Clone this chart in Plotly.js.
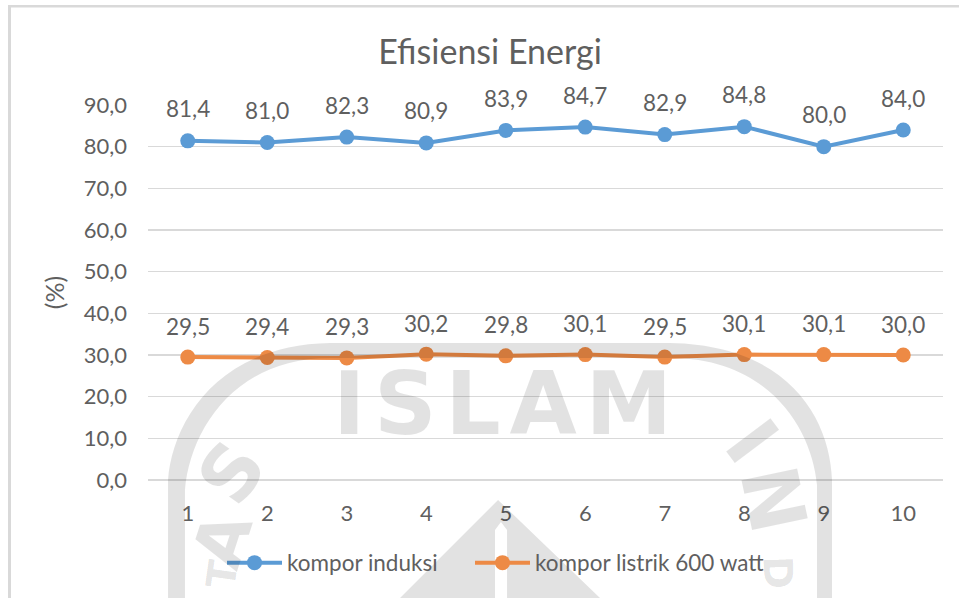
<!DOCTYPE html>
<html>
<head>
<meta charset="utf-8">
<script src="https://cdn.plot.ly/plotly-3.0.1.min.js"></script>
<style>html,body{margin:0;padding:0;background:#fff}#c{width:959px;height:598px}</style>
</head>
<body>
<div id="c"></div>
<script>
var categories = [1, 2, 3, 4, 5, 6, 7, 8, 9, 10];
var induksi = [81.4, 81.0, 82.3, 80.9, 83.9, 84.7, 82.9, 84.8, 80.0, 84.0];
var listrik = [29.5, 29.4, 29.3, 30.2, 29.8, 30.1, 29.5, 30.1, 30.1, 30.0];
var seriesNames = ['kompor induksi', 'kompor listrik 600 watt'];
var chartTitle = 'Efisiensi Energi';
var yTitle = '(%)';

var W = 959, H = 598, L = 148, R = 943, T = 105, B = 480;
var FONT = 'Lato, Carlito, sans-serif', INK = '#5f5f5f', GRID = '#d9d9d9';
var WM = 'rgba(0,0,0,0.115)';

function px(x) { return ((x - L) / (R - L)).toFixed(4); }
function py(y) { return ((B - y) / (B - T)).toFixed(4); }
function toPath(s) {
  return s.replace(/(-?\d+(?:\.\d+)?) (-?\d+(?:\.\d+)?)/g, function (m, a, b) {
    return px(+a) + ',' + py(+b);
  });
}
function wmShape(s) {
  return { type: 'path', xref: 'paper', yref: 'paper', layer: 'above', path: toPath(s), fillcolor: WM, line: { width: 0 } };
}
function frameRect(x0, y0, x1, y1) {
  return { type: 'rect', xref: 'paper', yref: 'paper', layer: 'below', x0: +px(x0), x1: +px(x1), y0: +py(y0), y1: +py(y1), fillcolor: GRID, line: { width: 0 } };
}
function dataLabels(vals, shift) {
  return vals.map(function (v, i) {
    return { x: categories[i], y: v, xref: 'x', yref: 'y', text: v.toFixed(1).replace('.', ','), showarrow: false, yshift: shift, yanchor: 'middle', font: { family: FONT, size: 22.5, color: INK } };
  });
}
function wmText(t, x, y, size, angle) {
  return { xref: 'paper', yref: 'paper', x: +px(x), y: +py(y), text: t, showarrow: false, textangle: angle, xanchor: 'center', yanchor: 'middle', font: { family: 'DejaVu Sans', weight: 700, size: size, color: WM } };
}
function legendAt(xPixel) {
  return {
    orientation: 'h', x: (xPixel - L) / (R - L), xanchor: 'left', y: (B - 563) / (B - T), yanchor: 'middle',
    font: { family: FONT, size: 22.5, color: INK }, itemwidth: 55, bgcolor: 'rgba(0,0,0,0)'
  };
}

var traces = [
  { x: categories, y: induksi, name: seriesNames[0], mode: 'lines+markers', line: { color: '#5b9bd5', width: 4 }, marker: { color: '#5b9bd5', size: 15 }, legend: 'legend' },
  { x: categories, y: listrik, name: seriesNames[1], mode: 'lines+markers', line: { color: '#ed8a45', width: 4 }, marker: { color: '#ed8a45', size: 15 }, legend: 'legend2' }
];

var layout = {
  width: W, height: H,
  margin: { l: L, r: W - R, t: T, b: H - B, pad: 0 },
  paper_bgcolor: '#fff', plot_bgcolor: 'rgba(0,0,0,0)',
  separators: ',.',
  showlegend: true,
  hovermode: false,
  title: { text: chartTitle, x: 490 / W, xanchor: 'center', y: 1 - 52 / H, yanchor: 'middle', font: { family: FONT, size: 34, color: INK } },
  xaxis: {
    range: [0.5, 10.5], tickmode: 'array', tickvals: categories, showgrid: false, zeroline: false,
    showline: false, ticks: '', ticklabelstandoff: 18, tickfont: { family: FONT, size: 22, color: INK }
  },
  yaxis: {
    range: [0, 90], dtick: 10, tickformat: '.1f', gridcolor: GRID, gridwidth: 1.5, zeroline: true, zerolinecolor: GRID, zerolinewidth: 1.5,
    showline: false, ticks: '', ticklabelstandoff: 20, tickfont: { family: FONT, size: 22, color: INK },
    title: { text: yTitle, standoff: 11, font: { family: FONT, size: 25, color: INK } }
  },
  legend: legendAt(222),
  legend2: legendAt(470),
  shapes: [
    frameRect(8, 5, 11, 598),
    frameRect(8, 5, 959, 7.5),
    wmShape('M 168 598 L 168 480 C 172 425 215 345 330 343 L 670 343 C 790 345 830 420 832 480 L 832 598 L 817 598 L 817 485 C 812 430 770 358 670 358 L 330 358 C 235 358 190 430 185 490 L 185 598 Z'),
    wmShape('M 498 500 L 400 598 L 495 598 L 495 530 L 501 522 L 507 530 L 507 598 L 600 598 Z')
  ],
  annotations: dataLabels(induksi, 32).concat(dataLabels(listrik, 31)).concat([
    wmText('I\u200AS\u200AL\u200AA\u200AM', 502, 404, 87, 0),
    wmText('S', 232, 473, 76, -55),
    wmText('A', 222, 540, 68, -72),
    wmText('T', 222, 574, 40, -82),
    wmText('I', 752, 441, 76, 53),
    wmText('N', 773, 499, 78, 78),
    wmText('D', 778, 572, 40, 88)
  ])
};

Plotly.newPlot('c', traces, layout, { displayModeBar: false, staticPlot: true });
</script>
</body>
</html>
